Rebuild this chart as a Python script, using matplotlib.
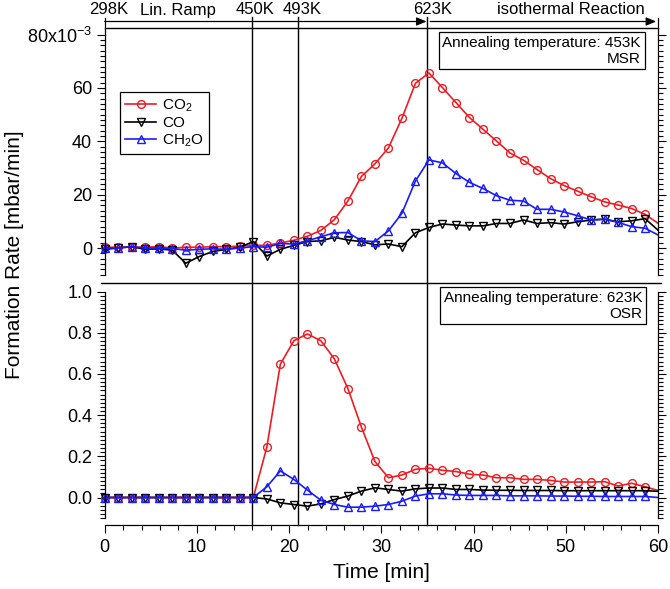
import numpy as np
import matplotlib.pyplot as plt
from matplotlib import transforms
from matplotlib.lines import Line2D
from matplotlib.patches import FancyArrowPatch
from matplotlib.ticker import MultipleLocator, FormatStrFormatter

plt.rcParams['font.family'] = ['Liberation Sans', 'DejaVu Sans']
plt.rcParams['mathtext.fontset'] = 'custom'
plt.rcParams['mathtext.rm'] = 'Liberation Sans'
plt.rcParams['mathtext.it'] = 'Liberation Sans:italic'

W, H = 670, 589

# time (min): one marker every ~1.465 min, last entry is where the trace ends at 60 min
t = list(np.round(np.arange(41) * 1.465, 3)) + [60.0]

# MSR, annealing 453K  (1e-3 mbar/min)
co2_msr = [0.3, 0.3, 0.3, 0.3, 0.5, 0.0, 0.3, 0.3, 0.5, 0.5,
           0.7, 1.0, 1.0, 1.9, 2.9, 4.4, 6.6, 10.6, 17.6, 26.8,
           31.5, 37.5, 48.6, 61.7, 65.6, 60.1, 54.5, 48.9, 44.5, 40.1,
           35.6, 32.9, 29.4, 26.0, 23.4, 21.3, 19.2, 17.3, 16.1, 14.8,
           12.6, 9.3]
co_msr = [-0.5, 0.0, 0.5, -0.5, -0.3, -0.8, -5.7, -3.2, -1.3, -0.5,
          0.3, 2.4, -3.0, -0.5, 1.0, 2.4, 2.7, 4.0, 3.0, 2.4,
          1.2, 1.5, 0.5, 5.7, 7.7, 9.0, 8.6, 8.3, 8.3, 9.2,
          9.2, 10.5, 9.2, 9.5, 9.0, 9.8, 10.5, 10.8, 9.8, 10.2,
          11.0, 6.7]
ch2o_msr = [0.0, 0.0, 0.5, 0.0, 0.0, -0.2, -0.8, -0.5, -0.3, -0.5,
            0.0, 0.5, 0.3, 1.7, 1.5, 2.7, 4.2, 5.7, 5.8, 2.7,
            2.4, 6.4, 13.0, 25.1, 33.0, 31.9, 27.9, 24.6, 22.3, 19.6,
            17.9, 17.6, 14.5, 14.5, 13.5, 12.1, 10.5, 10.8, 9.6, 8.0,
            7.4, 4.9]

# OSR, annealing 623K  (mbar/min)
co2_osr = [0.0, 0.0, 0.0, 0.0, 0.0, 0.0, 0.0, 0.0, 0.0, 0.0,
           0.0, 0.0, 0.244, 0.647, 0.761, 0.794, 0.761, 0.673, 0.529, 0.342,
           0.175, 0.096, 0.109, 0.137, 0.142, 0.132, 0.126, 0.113, 0.109, 0.096,
           0.096, 0.088, 0.088, 0.083, 0.075, 0.075, 0.075, 0.077, 0.056, 0.069,
           0.052, 0.034]
co_osr = [0.0, 0.0, 0.0, 0.0, 0.0, 0.0, 0.0, 0.0, 0.0, 0.0,
          0.0, 0.0, -0.007, -0.026, -0.034, -0.042, -0.031, -0.010, 0.007, 0.031,
          0.047, 0.039, 0.031, 0.042, 0.046, 0.046, 0.039, 0.039, 0.036, 0.035,
          0.035, 0.034, 0.034, 0.034, 0.033, 0.033, 0.033, 0.033, 0.033, 0.033,
          0.033, 0.030]
ch2o_osr = [0.0, 0.0, 0.0, 0.0, 0.0, 0.0, 0.0, 0.0, 0.0, 0.0,
            0.0, 0.0, 0.052, 0.129, 0.088, 0.036, -0.013, -0.034, -0.047, -0.047,
            -0.042, -0.034, -0.018, 0.007, 0.018, 0.018, 0.012, 0.010, 0.010, 0.010,
            0.008, 0.008, 0.008, 0.007, 0.007, 0.006, 0.006, 0.005, 0.005, 0.005,
            0.005, 0.0]

t_lines = [16, 21, 35]
header = [(0.45, '298K'), (7.9, 'Lin. Ramp'), (16.3, '450K'), (21.4, '493K'),
          (35.6, '623K'), (50.6, 'isothermal Reaction')]

red, blue = '#ee1c24', '#1a1aff'
styles = [('CO$_2$', red, 'o'), ('CO', 'black', 'v'), ('CH$_2$O', blue, '^')]


def rect(left, top, right, bottom):
    return [left / W, 1 - bottom / H, (right - left) / W, (bottom - top) / H]


fig = plt.figure(figsize=(W / 100, H / 100), dpi=100)
ax1 = fig.add_axes(rect(104.7, 34.5, 658, 274.7))
ax2 = fig.add_axes(rect(104.7, 291.5, 658, 518.1))

for ax, series in [(ax1, [co2_msr, co_msr, ch2o_msr]), (ax2, [co2_osr, co_osr, ch2o_osr])]:
    for (lab, c, m), y in zip(styles, series):
        ax.plot(t, y, color=c, lw=1.2, marker=m, ms=5.6, mfc='none', mec=c, mew=1.0,
                markevery=slice(0, 41), label=lab, clip_on=False)
    ax.set_xlim(0, 60)
    ax.patch.set_visible(False)
    ax.spines['top'].set_visible(False)
    for s in ax.spines.values():
        s.set_linewidth(0.9)
    ax.tick_params(axis='y', which='both', direction='out', left=True, right=True,
                   labelsize=13, width=0.8, pad=3)
    ax.tick_params(axis='y', which='major', length=6)
    ax.tick_params(axis='y', which='minor', length=3.5)

ax1.spines['bottom'].set_visible(False)
ax1.set_ylim(-10, 80)
ax1.yaxis.set_major_locator(MultipleLocator(20))
ax1.yaxis.set_minor_locator(MultipleLocator(2))
ax1.set_yticks([0, 20, 40, 60, 80])
ax1.set_yticklabels(['0', '20', '40', '60', r'80x10$^{\mathregular{-3}}$'])
ax1.tick_params(axis='x', which='both', bottom=False, labelbottom=False)

ax2.set_ylim(-0.1, 1.0)
ax2.yaxis.set_major_locator(MultipleLocator(0.2))
ax2.yaxis.set_minor_locator(MultipleLocator(0.02))
ax2.yaxis.set_major_formatter(FormatStrFormatter('%.1f'))
ax2.spines['bottom'].set_position(('outward', 5))
ax2.xaxis.set_major_locator(MultipleLocator(10))
ax2.xaxis.set_minor_locator(MultipleLocator(2))
ax2.tick_params(axis='x', which='both', direction='out', labelsize=13, width=0.8, pad=4)
ax2.tick_params(axis='x', which='major', length=6)
ax2.tick_params(axis='x', which='minor', length=3.5)

# lines / arrows spanning the whole figure, x in data units
tr = transforms.blended_transform_factory(ax1.transData, fig.transFigure)
fy = lambda py: 1 - py / H
for x in t_lines:
    fig.add_artist(Line2D([x, x], [fy(17), fy(525)], transform=tr, color='black', lw=1.0, zorder=-1))
for x in [0, 60]:
    fig.add_artist(Line2D([x, x], [fy(18), fy(34.5)], transform=tr, color='black', lw=0.9))
fig.add_artist(Line2D([0, 60], [fy(28), fy(28)], transform=tr, color='black', lw=1.0))
fig.add_artist(Line2D([101 / W, 661 / W], [fy(283), fy(283)], transform=fig.transFigure,
                      color='black', lw=1.0))
for a, b in [(0, 34.9), (35.3, 59.8)]:
    fig.add_artist(FancyArrowPatch((a, fy(21.5)), (b, fy(21.5)), transform=tr,
                                   arrowstyle='-|>,head_length=0.6,head_width=0.25',
                                   mutation_scale=10, color='black', lw=0.9,
                                   shrinkA=0, shrinkB=0))
for x, s in header:
    fig.text(x, fy(10), s, transform=tr, ha='center', va='center', fontsize=12)

leg = ax1.legend(loc='upper left', bbox_to_anchor=(120 / W, fy(92)), bbox_transform=fig.transFigure,
                 borderaxespad=0, fontsize=11, fancybox=False, edgecolor='black', framealpha=1,
                 handlelength=2.0, labelspacing=0.15, borderpad=0.35, handletextpad=0.4)
leg.get_frame().set_linewidth(0.9)

box = dict(boxstyle='square,pad=0.25', fc='white', ec='black', lw=0.9)
fig.text(641 / W, fy(36), 'Annealing temperature: 453K\nMSR', ha='right', va='top',
         multialignment='right', fontsize=11, bbox=box, linespacing=1.15)
fig.text(642 / W, fy(291), 'Annealing temperature: 623K\nOSR', ha='right', va='top',
         multialignment='right', fontsize=11, bbox=box, linespacing=1.15)

fig.text(15 / W, fy(255), 'Formation Rate [mbar/min]', rotation=90, ha='center', va='center',
         fontsize=15)
fig.text(381 / W, fy(572), 'Time [min]', ha='center', va='center', fontsize=15)

fig.savefig('out.png', dpi=100)
